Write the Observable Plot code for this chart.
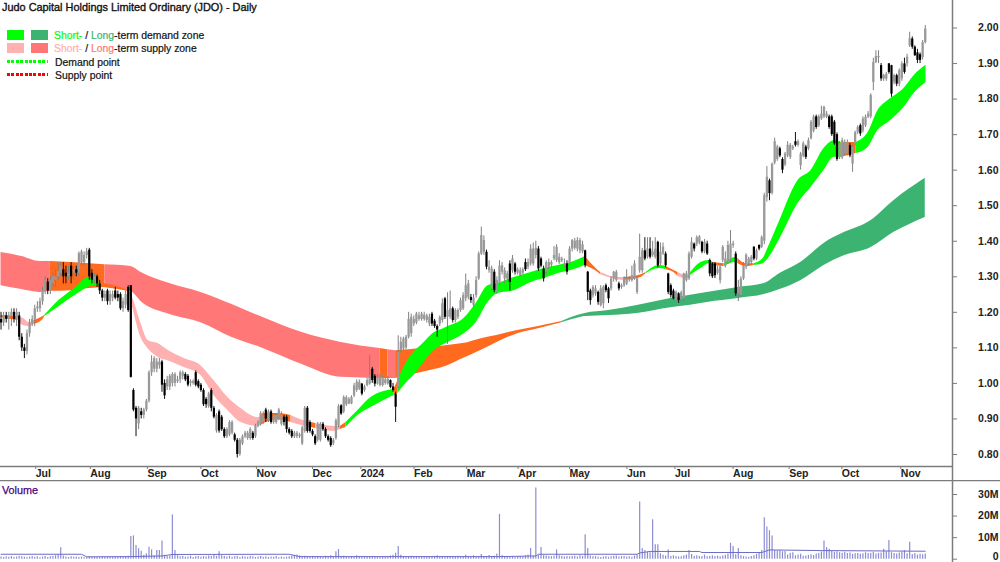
<!DOCTYPE html>
<html><head><meta charset="utf-8">
<script src="https://cdn.jsdelivr.net/npm/d3@7"></script>
<script src="https://cdn.jsdelivr.net/npm/@observablehq/plot@0.6"></script>
<style>
html,body{margin:0;padding:0;background:#fff;overflow:hidden}
#wrap{position:relative;width:1000px;height:562px;font-family:"Liberation Sans",Arial,sans-serif;color:#111}
#wrap svg{display:block}
.ov{position:absolute;white-space:nowrap;line-height:12px;font-size:10.4px;-webkit-text-stroke:0.2px #111}
.sw{position:absolute;width:17px;height:10px}
.dot{position:absolute;width:41px;height:3px}
</style></head><body><div id="wrap"></div>
<script>
const titleText = "Judo Capital Holdings Limited Ordinary (JDO) - Daily";
// daily candles, prices in cents
const opens = [
118,117,119,118,119,120,118,119,113,110,
109,114,117,118,121,121,123,126,128.5,126,
128,129,130,131,132,131,130,133,131,132,
131,134,134,136,137.5,131,129,130,128,126,
124,126,123,124,126,125,125,121,122,127,
127.5,98,93,88.6,92,91,92.5,95,103,104,
104,105,106,100,99,99,100,100,100.5,101,
102,102.5,102,100,100,103,100.5,99.5,98,95.5,
93.5,98,93,86.6,92,90.5,87,85,85.5,86,
85.5,84,80,83,85,84.5,84.5,86,85,88,
88.6,89,92.5,89.5,92,89,89,90,88.5,90.5,
90.5,87,86.5,85,85,85,83,86.5,93,89,
86.5,85,84,84,88.5,87,85,84.5,83,84.5,
88,93.7,92,94,94.2,94.2,96.5,98,98.4,99.8,
98,99.4,99.8,104,102,99.8,99.4,99.4,100,99.8,
100.8,99,97,99,109.2,109.7,110,113,114,116.7,
117,118,118,118,117.7,116.7,119.5,117.5,116,116.7,
117.7,123.8,118.6,118.6,121,117.7,118.6,120.5,121,123.8,
124.2,124.2,122,124.7,129.4,136.4,136.9,136.9,131.7,126.6,
131.3,125.6,128,131.3,129.4,129.4,133.6,131.7,133.6,131,
130.3,131,134,132.7,133.6,133.6,136,137.8,135,132.2,
131.3,132.7,133.3,135,134.5,134,134.5,133.1,133.6,133.6,
137.8,138,137.8,137.3,137,137.3,131.3,126,124.7,125.2,
125.6,121.9,122.4,127.5,126.6,126.6,129.4,129,128,127,
127.5,128,129.1,128.9,129.4,125.6,131.7,131.7,137.3,135.5,
137.8,136,135.5,139.7,133.6,136.4,136.4,130.8,127.5,126,
123.3,125.2,123.5,123.8,128.9,129.4,135.5,139.2,139.2,139.5,
139.7,137,139.2,134.6,133.6,133.6,131,128.9,134.6,133,
134,134.6,138.8,136.4,125.2,124.7,129.4,132.7,133.6,134,
138.3,135,138.8,138.3,140,152.3,157,153.5,162,163,
166,163,161.5,164,163.6,166,168,167,161.3,164,
166.5,166,168.8,171,175,172.5,174.4,175,174.9,175,
175,173.5,170,163.5,163.5,164.5,164.5,166.9,161.7,167.4,
170.6,172.5,171,172.5,174.9,175,184.7,190.3,191.6,189.4,
185.6,185.6,189.9,189.4,184.7,186.6,184.2,185.7,189.9,189.9,
195,196.9,194.6,193,192.5,191.7,195.9];
const closes = [
117,119,118,119,120,118,120,113,110,109,
114,117,118,121,121.5,123,126,129,126,129,
130,130,131.5,133,130,130,131,130,132,131,
136.5,137,136,137,130,129,130,128,126,124,
125,123,125,125,124,124,121,123,125,120.5,
101.7,92.5,90,93,91,92.5,95,103,106,107,
106,106,99.5,96.5,101,102,102.5,102.5,101,103,
103,101,99.5,100.5,100.5,99.5,99,98,94,94,
97,93,90.5,91,86.6,87,85,87,89,89,
84,80,84,85,86,86,87,84.5,88,89,
91.5,91,90,92,89,91,91,92.5,91,89,
87,86,85,86,86,85.5,87.5,93,86.5,86.5,
85.5,83,88.5,88.5,87,85,84,82.5,84,89.5,
93.5,91.4,96,96,95.5,96,99.3,100.3,100.3,97,
99,100.8,102.2,100.8,99.8,101.7,101.7,101.7,101,101.2,
98.9,98,93.3,108.7,111.6,112.5,113,118,118.6,118,
119.5,119,119.5,119.2,119,118.6,116.7,116,115,118.6,
122.4,118.6,120.5,121,117.7,120.5,120.5,123.3,124.7,127.5,
128,123.3,124,129,136.4,141.6,140.2,132.7,132.7,132.2,
126.1,129,133,133.1,131.7,130.8,128.4,135,131.3,132,
131.7,132,132,134,137.8,137.8,138,132.2,133,129.4,
134,134,134,136,138.3,135.5,135,133.6,131.3,137.8,
140.2,140,140.2,140.2,139,133.1,125.6,123.3,127,126.6,
122.8,126.6,127,126.1,123.8,129.4,131.3,131.3,126.6,127.5,
129.4,129.4,129.4,130.3,133.6,129.4,135.5,137.3,135,137.8,
135.5,137,137.8,133.1,136.9,138.3,133.1,125.6,124.7,123.8,
125.6,123.3,125.5,130.8,130.8,136.4,139.7,137.8,141,141.2,
137,139.7,136.4,130.8,130,130.3,132,132.7,138.3,135,
138.8,139.2,139.2,125.2,127,129.4,133.1,136,135,135.5,
135,137.3,137.8,141,152.8,158,153.4,161.7,168,166.5,
164,160,164.5,167,167,166.5,167,168,164.5,167.4,
163.6,168.3,173.5,175,172,175,175.8,177.7,175.8,172,
170,167.4,163,167.4,168.3,167.8,167.8,164,166.4,170.6,
172,170.2,174.4,174.9,175.8,181,190.3,192,192,185.7,
186.6,187,187.5,181.4,186.6,184.2,188,189.9,187.5,191.8,
197,194.6,192.2,190.9,190.9,195.9,199.7];
const highs = [
120,120,120,120,121,121,121,120,114,111,
115,118,119,122,123,124,127,130,129.5,130,
131,132,134,134,134,133,133,134,133,133,
137,137.5,137,138,138,132,131,130.5,129,126.5,
126,126.5,126,126,127,126,125.5,124,126,127.5,
127.5,98.5,93.5,93.5,93,93,95.5,103.5,107.8,107.5,
107,107,106.5,101,102,102.5,103,103,102,103.5,
103.5,103,102.5,101,101,103.5,101,100,98.5,96,
97.5,98.5,93.5,91.5,92.5,91,87.5,87.5,89.5,89.5,
86,84.5,84.5,85.5,86.5,86.5,87.5,86.5,88.5,89.5,
92,92,93,92.5,92.5,91.5,91.5,93,92,91,
91,87.5,87,86.5,86.5,86,88,93.5,93.5,89.5,
87,85.5,89,89,89,87.5,85.5,85,84.5,90,
94,94,96.5,96.5,96,96.5,100,101,101,100,
99.5,101.5,107.8,104.5,102.5,102.5,102.5,102,101.5,102,
101,100,97.5,113.4,113,113,113.5,120,119.5,119,
120,120,120,120,119.5,119.5,120,118,116.5,119,
123.8,124.2,125.5,126,121.5,121,121,124,125.5,130.8,
129,125,125,130,137,144,141.5,137.5,134.5,133,
132,130,134.5,134,132.5,131.5,134.5,136,134,132.5,
132.5,132.5,135,135,139,139.5,140,138.5,135.5,133,
134.5,135,134.5,138.5,139,136.5,135.5,135,134.5,138.5,
140.5,140.8,141,140.8,140,137.5,131.5,126.5,127.5,127.5,
126,127.5,127.5,128,127,130,131.5,131.8,128.5,128,
130,132,130,133,134.5,130,142,138,141,141,
141,140,141,140,139.5,139.5,137,131,128,126.5,
126,125.5,126,131,131.5,137,141,139.5,141.5,141.6,
140,140.5,140,135,134,134,133,133.5,138.8,137,
140,143,140,137,129,130,134,136.5,135.5,136,
138.5,137.8,139,141.5,153.5,161,157.5,162,169,167,
166.5,163.5,165,168,167.5,167,170.6,168.5,165,168,
167,169,174,175.5,175.5,175.5,178,178,176.5,175.5,
175.5,174,170.5,168,169,168.5,168.5,167.5,167,171,
172.5,173,175,175.5,176.5,181.5,191.5,193.6,193.6,190,
187,187.5,190,189.5,187,187,188.5,190.5,191.5,192.6,
198.8,197.5,195,194,193,196.5,200.7];
const lows = [
115,116,117,115,116,117,116,112,109,107,
108,113,116,116,120,120,122,125,125,125,
127,127,129,130,128,128,129,128,129,130,
130,133,133,135,129,128,128,127,125,123,
123,122,122,123,123.5,123,120.5,120,121,120,
101.5,92,85,87,90,90,92,94.5,102,103,
103,104,97.5,95.5,98,98,99,99,100,100,
101,100.5,99,99,99.5,99,98.5,97.5,93.5,93,
93,92,90,86,86,86.5,84.5,84.5,85,85.5,
83.5,79,79.5,82.5,84.5,84,84,84,84.5,87.5,
88,88.5,89,89,88.5,88.5,88.5,89.5,88,88,
86,85.5,84.5,84.5,84.5,84.5,82.5,86,86,86,
85,82.5,83.5,83.5,86.5,84.5,83.5,82,82.5,84,
87.5,91,91.5,93.5,94,94,96,97.5,98,96.5,
97.5,99,99.5,100,99,99.5,99,99,99.5,99.5,
98.5,97.5,89,98.5,108.5,109,109.5,112.5,113,116,
116.5,117.5,117.5,117.5,117,116,116,115.5,113,116,
117,118,111,118,117,117,118,120,120.5,123,
123.5,122.5,121.5,124,129,136,136,132,131,126,
125.5,125,127.5,130.5,128,128.5,126,131,130.5,130.5,
130,130.5,131.5,132,133,133,135,131.5,132.5,128.5,
130.5,132,132.5,134.5,134,133.5,134,132.5,130.5,133,
137,137.5,137,136.5,136.5,132.5,123.3,122,124,124.5,
122,121.5,121,125.5,122.5,126,128.5,128.5,126,126.5,
127,127.5,128.5,128.5,129,125,131,131,134.5,135,
135,135.5,135,132.5,133,136,132.5,125,124,123.5,
123,122.5,123,123,128.5,129,135,137,138.5,139,
136.5,136.5,136,130,129.5,129.5,130.5,128,134,132.5,
133.5,134,138,124.5,123,124.3,129,132,133,133.5,
134.5,134.5,137.3,138,139,151,151.4,153,161.5,162.5,
163.5,159,161,163.5,163,165.5,166.5,166.5,160,163.5,
163,165.5,168.5,170.5,171.5,172,174,174.5,174.5,171.5,
169.5,167,162.5,163,163,164,164,163.5,159.4,167,
170,169.5,170.5,172,174.5,174.5,182.4,190,190,185,
185,185,187,180.5,184,183.5,183.5,185,187,189,
194.5,194,192,190,190,191,195.5];
// daily volume, millions of shares
const volumes = [
1.0,0.8,1.1,0.9,1.2,0.8,1.0,1.3,1.1,0.9,
0.8,1.0,1.2,0.9,1.1,0.7,1.0,1.2,0.8,1.1,
1.3,1.6,1.9,5.3,1.5,1.0,0.8,1.1,0.9,1.0,
0.8,1.0,0.7,0.9,1.2,0.8,1.0,0.9,0.7,1.1,
0.8,0.9,1.0,0.8,1.1,0.9,1.2,1.0,1.3,1.4,
10.5,10.8,6.3,4.8,3.7,1.8,2.5,5.6,4.3,1.6,
4.0,4.0,8.4,1.8,1.2,1.5,20.5,4.0,1.6,1.1,
1.3,0.9,1.0,1.4,0.8,1.1,1.3,0.9,1.2,1.0,
1.5,1.2,1.8,1.3,3.5,1.6,1.2,1.0,1.4,0.9,
1.1,1.3,0.8,1.2,1.0,0.9,1.3,1.1,0.8,1.0,
1.2,0.9,1.1,0.8,1.0,0.9,1.2,0.7,1.0,0.8,
0.9,1.1,1.5,1.8,2.0,1.6,1.2,1.4,1.1,1.0,
1.3,0.9,1.2,1.0,0.8,1.4,1.1,1.6,1.0,3.5,
4.5,1.2,1.4,1.0,0.8,1.1,0.9,1.6,1.3,1.0,
0.8,1.0,1.1,0.9,1.3,1.0,0.8,1.2,0.9,1.1,
1.5,1.8,2.8,5.9,1.8,1.3,1.1,1.0,1.4,0.9,
1.2,1.0,0.8,1.3,1.1,0.9,1.2,1.0,1.6,1.1,
1.3,0.9,1.2,1.0,0.8,1.1,1.4,1.0,1.2,1.8,
1.1,0.9,1.6,1.2,1.0,2.2,1.3,1.1,1.7,1.2,
1.4,2.4,20.8,1.6,1.1,1.3,1.0,1.2,0.8,1.1,
1.3,1.0,1.6,1.9,5.0,1.5,33.0,1.8,5.4,1.6,
1.5,1.2,1.1,1.4,4.3,1.6,1.2,1.0,1.3,1.1,
1.2,1.4,1.0,1.6,1.3,11.3,5.0,1.5,1.1,1.2,
0.9,0.8,1.0,1.2,0.9,1.1,1.4,1.5,1.0,1.2,
1.3,1.0,1.1,0.9,1.4,2.0,26.5,5.0,4.0,3.2,
3.0,18.3,6.7,6.7,2.5,1.8,1.5,4.3,1.3,1.6,
1.2,1.0,1.1,1.6,1.9,4.0,2.2,1.4,1.6,1.2,
1.3,1.9,1.1,1.2,1.6,1.3,1.4,1.1,1.5,1.8,
2.4,7.4,5.9,2.1,5.0,1.6,1.2,1.0,0.9,1.3,
1.6,2.2,3.0,4.0,19.2,14.9,13.2,10.8,4.0,3.8,
4.2,3.5,3.6,2.0,2.8,3.0,1.6,1.9,2.3,1.4,
1.5,1.8,2.1,1.7,2.4,2.6,3.5,8.4,5.4,4.6,
3.6,3.2,3.4,3.0,2.8,3.2,2.6,2.9,2.2,2.5,
2.7,2.3,2.5,3.0,2.6,2.8,3.1,2.4,2.7,2.9,
4.6,3.4,8.7,3.0,2.6,2.4,2.9,3.3,4.0,2.5,
7.9,2.2,2.6,1.9,2.3,2.1,2.4];
// volume average line
const volAvgBars = [0,31,33,50,62,66,111,115,192,206,207,245,246,250,269,270,293,296,316,356];
const volAvg = [2.3,2.3,1.1,1.2,1.5,2.2,2.3,1.2,1.2,1.5,2.3,2.3,2.9,3.6,3.6,3.1,3.1,4.3,4.0,3.7];
// long-term zone edges (cents)
const longBars = [0,8,15,19,27,34,40,50,54,65,77,89,100,116,131,146,149,152,162,172,178,185,191,199,207,216,222,225,234,245,258,265,272,284,294,300,308,317,325,335,344,356];
const longTop = [136.8,135.7,134.3,134.3,134,133.7,133.4,132.9,131.2,128.1,125.6,122.2,118.8,114.3,111.5,109.8,109.5,109.2,109.8,110.7,111.2,112.6,113.5,114.9,116,117.4,119.1,119.7,120.5,121.9,123.9,124.7,125.6,127,128.1,130.9,134,139.4,142.5,145.8,151.5,157.7];
const longBottom = [127.5,126.4,125.6,125.9,126.1,126.7,127,125.9,123,119.4,117.1,112.9,110.1,105.3,101.7,101.4,101.4,101.4,103.1,105,107,109.3,111.5,114,115.4,117.1,118.3,118.8,119.1,119.7,121.3,121.9,122.8,123.9,125,126.4,128.9,133.2,136,138.2,142.5,146.7];
const longBreaks = [0,19,40,146,149,152,216,356];
const longKinds = ["long supply","both","long supply","both","long supply","both","long demand"];
// short-term zone edges (cents)
const shortBars = [0,6.5,8.5,10.8,12.7,16.2,16.8,19.3,22.3,26.2,29.7,33.5,36.6,37.8,39.7,45,49.3,50.8,53.9,56.6,60.5,64.3,70.5,77,82,87.4,92.5,99,100.2,101.3,106.7,111.7,115.6,119.4,121.3,124.4,128.3,130.6,132.9,137.5,142.5,147.5,151.4,152.9,156,159,162.6,165.6,171.4,178.4,183,187.6,191.4,197.6,204.2,209.2,214.6,219.6,225,230,231,237.7,240,246.5,248.5,253.5,256.2,259.2,260.8,263.9,265,269.6,272.7,274.3,278.5,283.1,283.9,287,290,293.5,295.5,299.7,307,312,317,320.9,323.6,329.4,334,337.8,341.7,347.8,351.7,356.3];
const shortTop = [119.1,118.8,118.3,117.1,117.7,118.8,119.1,121.1,123.3,125.6,127.5,129.8,129.8,129,128.1,127.3,126.1,123.9,116.9,112.1,111.2,109.3,107,105,100.8,96,92.9,90.4,90.7,91.5,91.5,91,89.8,89,88.7,88.2,87.9,87.9,89,92.4,96,97.7,98.3,100.8,105.6,108.7,111.2,113.5,115.7,118.3,122.5,127.5,128.1,129.8,131.2,132.3,133.2,134,135.7,131.8,131.2,129.8,129.8,130.6,131.2,133.2,132.9,131.8,131.2,130.4,130.6,134,134.6,134,133.7,135.4,135.1,133.7,133.7,135.1,138.2,145.3,157.1,159.9,166.1,168.3,167.8,167.8,170.6,176.8,179.6,183,186.6,189.5];
const shortBottom = [118.5,117.7,116.3,116,116.6,118,118.8,120,121.6,123.6,125.3,127,127.5,127.3,127,126.4,125.8,121.1,112.9,109.8,107.3,106.4,104.5,102.2,96.6,92.4,89,87.9,88.2,88.7,89.8,89,88.2,87.6,87.3,86.8,86.5,87,87.6,91,93.2,95.2,96.6,97.2,100,102.2,105.6,108.4,111.2,114,117.1,122.8,125.3,126.1,128.4,129.5,130.9,131.8,133.2,131.2,130.6,129.2,129,129.8,130.9,132.3,132,131.2,130.1,129.5,130.1,132.3,133.7,133.2,132.9,134,133.7,132.9,133.2,133.7,135.1,140.2,150.6,155.1,159.9,163.6,163.6,164.7,166.4,171.2,173.4,177.6,181.6,184.7];
const shortBreaks = [0,6.5,12.7,16.8,37.8,49.3,100.2,111.7,119.4,121.3,130.6,132.9,151.4,152.9,225,231,240,248.5,256.2,260.8,265,274.3,278.5,283.9,290,323.6,329.4,356.3];
const shortKinds = ["both","short supply","both","short demand","both","short supply","both","short supply","both","short supply","both","short demand","both","short demand","both","short supply","both","short demand","both","short supply","short demand","both","short demand","both","short demand","both","short demand"];
const zoneKinds = ["short demand","long demand","short supply","long supply","both"];
// axes
const monthBars = [13,34,56,76.6,98,119.6,138.2,158.7,179,198.8,218.6,240.7,259.2,281.6,303.2,323.5,346.2];
const monthLabels = ["Jul","Aug","Sep","Oct","Nov","Dec","2024","Feb","Mar","Apr","May","Jun","Jul","Aug","Sep","Oct","Nov"];
const priceTicks = [0.8,0.9,1.0,1.1,1.2,1.3,1.4,1.5,1.6,1.7,1.8,1.9,2.0];
const volumeTicks = [0,10,20,30];
const legendRows = [["Demand point"],["Supply point"]];

const FONT = '"Liberation Sans",Arial,sans-serif';
const xDomain = [-0.2, 366.5];
const candles = opens.map((o,i)=>({bar:i,o:o/100,c:closes[i]/100,h:highs[i]/100,l:lows[i]/100,up:closes[i]>=o}));
const zoneRows = (bars,top,bottom,breaks,kinds,tag) => kinds.flatMap((kind,r)=>bars
  .map((b,k)=>({bar:b,hi:top[k]/100,lo:bottom[k]/100,kind,run:tag+r}))
  .filter(d=>d.bar>=breaks[r]&&d.bar<=breaks[r+1]));
const longRows = zoneRows(longBars,longTop,longBottom,longBreaks,longKinds,"L");
const shortRows = zoneRows(shortBars,shortTop,shortBottom,shortBreaks,shortKinds,"S");
const upBars = candles.filter(d=>d.up), downBars = candles.filter(d=>!d.up);
const axisGrey = "#7c7c7c";
const labelFont = {fontWeight:"bold",fontSize:10.5,fill:"#222"};

const priceChart = Plot.plot({
  width:1000,height:480,marginLeft:0,marginRight:48,marginTop:0,marginBottom:14,
  style:{fontFamily:FONT,background:"#fff"},
  x:{domain:xDomain,axis:null},
  y:{domain:[0.7662,2.0774],axis:null},
  color:{domain:zoneKinds,range:["#00ff00","#3cb371","#ffb0b0","#ff7777","#ff6a1e"]},
  marks:[
    Plot.areaY(longRows,{x:"bar",y1:"lo",y2:"hi",z:"run",fill:"kind",curve:"monotone-x"}),
    Plot.areaY(shortRows,{x:"bar",y1:"lo",y2:"hi",z:"run",fill:"kind",curve:"monotone-x"}),
    Plot.ruleX(upBars,{x:"bar",y1:"l",y2:"h",stroke:"#808080",strokeWidth:1}),
    Plot.ruleX(upBars,{x:"bar",y1:"o",y2:"c",stroke:"#999999",strokeWidth:2.3}),
    Plot.ruleX(downBars,{x:"bar",y1:"l",y2:"h",stroke:"#111",strokeWidth:1}),
    Plot.ruleX(downBars,{x:"bar",y1:"o",y2:"c",stroke:"#000",strokeWidth:2.2}),
    Plot.axisX({ticks:monthBars,tickSize:3,tickPadding:0,textAnchor:"start",dx:1,label:null,
      tickFormat:d=>monthLabels[monthBars.indexOf(d)],stroke:axisGrey,...labelFont}),
    Plot.axisY({anchor:"right",ticks:priceTicks,tickSize:4,tickPadding:42,textAnchor:"end",label:null,
      tickFormat:d3.format(".2f"),stroke:axisGrey,...labelFont}),
    Plot.ruleY([0.7662],{stroke:axisGrey,strokeWidth:1.5}),
    Plot.ruleX([xDomain[1]],{stroke:axisGrey,strokeWidth:1.5,insetBottom:-14})
  ]
});
const volRows = volumes.map((v,i)=>({bar:i,v}));
const volAvgRows = volAvgBars.map((b,i)=>({bar:b,v:volAvg[i]}));
const volumeChart = Plot.plot({
  width:1000,height:82,marginLeft:0,marginRight:48,marginTop:0,marginBottom:0,
  style:{fontFamily:FONT,background:"#fff",overflow:"hidden"},
  x:{domain:xDomain,axis:null},
  y:{domain:[-1.53,36.5],axis:null},
  marks:[
    Plot.ruleX(volRows,{x:"bar",y1:0,y2:"v",stroke:"#8c8cd4",strokeWidth:1.2}),
    Plot.line(volAvgRows,{x:"bar",y:"v",stroke:"#6c6cc4",strokeWidth:1}),
    Plot.axisY({anchor:"right",ticks:volumeTicks,tickSize:4,tickPadding:42,textAnchor:"end",label:null,
      tickFormat:d=>d===0?"":d+"M",stroke:axisGrey,...labelFont}),
    Plot.axisY({anchor:"right",ticks:[0],tickSize:0,tickPadding:46,textAnchor:"end",dy:-3,label:null,
      tickFormat:()=>"0",stroke:"none",...labelFont}),
    Plot.ruleX([xDomain[1]],{stroke:axisGrey,strokeWidth:1.5}),
    Plot.ruleY([36.5],{stroke:axisGrey,strokeWidth:1.5,insetRight:-48})
  ]
});
const wrap = document.getElementById("wrap");
wrap.append(priceChart,volumeChart);
const add=(cls,style,html)=>{const e=document.createElement("div");e.className=cls;e.style.cssText=style;if(html)e.innerHTML=html;wrap.append(e);};
const dots=c=>`background:repeating-linear-gradient(90deg,${c} 0 3px,transparent 3px 4.4px)`;
add("ov","left:2px;top:1px;font-size:10.9px;-webkit-text-stroke:0.35px #111",titleText);
add("sw","left:7px;top:30px;background:#00ff00");
add("sw","left:31px;top:30px;background:#3cb371");
add("sw","left:7px;top:43px;background:#ffb0b0");
add("sw","left:31px;top:43px;background:#ff7777");
add("dot","left:7px;top:60px;"+dots("#00ff00"));
add("dot","left:7px;top:73px;"+dots("#ff0000"));
add("ov","left:54px;top:30px",'<span style="color:#00ff00;-webkit-text-stroke:0.2px #00ff00">Short-</span> / <span style="color:#3cb371;-webkit-text-stroke:0.2px #3cb371">Long</span>-term demand zone');
add("ov","left:54px;top:43px",'<span style="color:#ffb0b0;-webkit-text-stroke:0.2px #ffb0b0">Short-</span> / <span style="color:#ff7777;-webkit-text-stroke:0.2px #ff7777">Long</span>-term supply zone');
add("ov","left:55px;top:57px",legendRows[0][0]);
add("ov","left:55px;top:70px",legendRows[1][0]);
add("ov","left:2px;top:484px;color:#4b0082;-webkit-text-stroke:0.25px #4b0082;font-size:10.8px","Volume");
</script></body></html>
